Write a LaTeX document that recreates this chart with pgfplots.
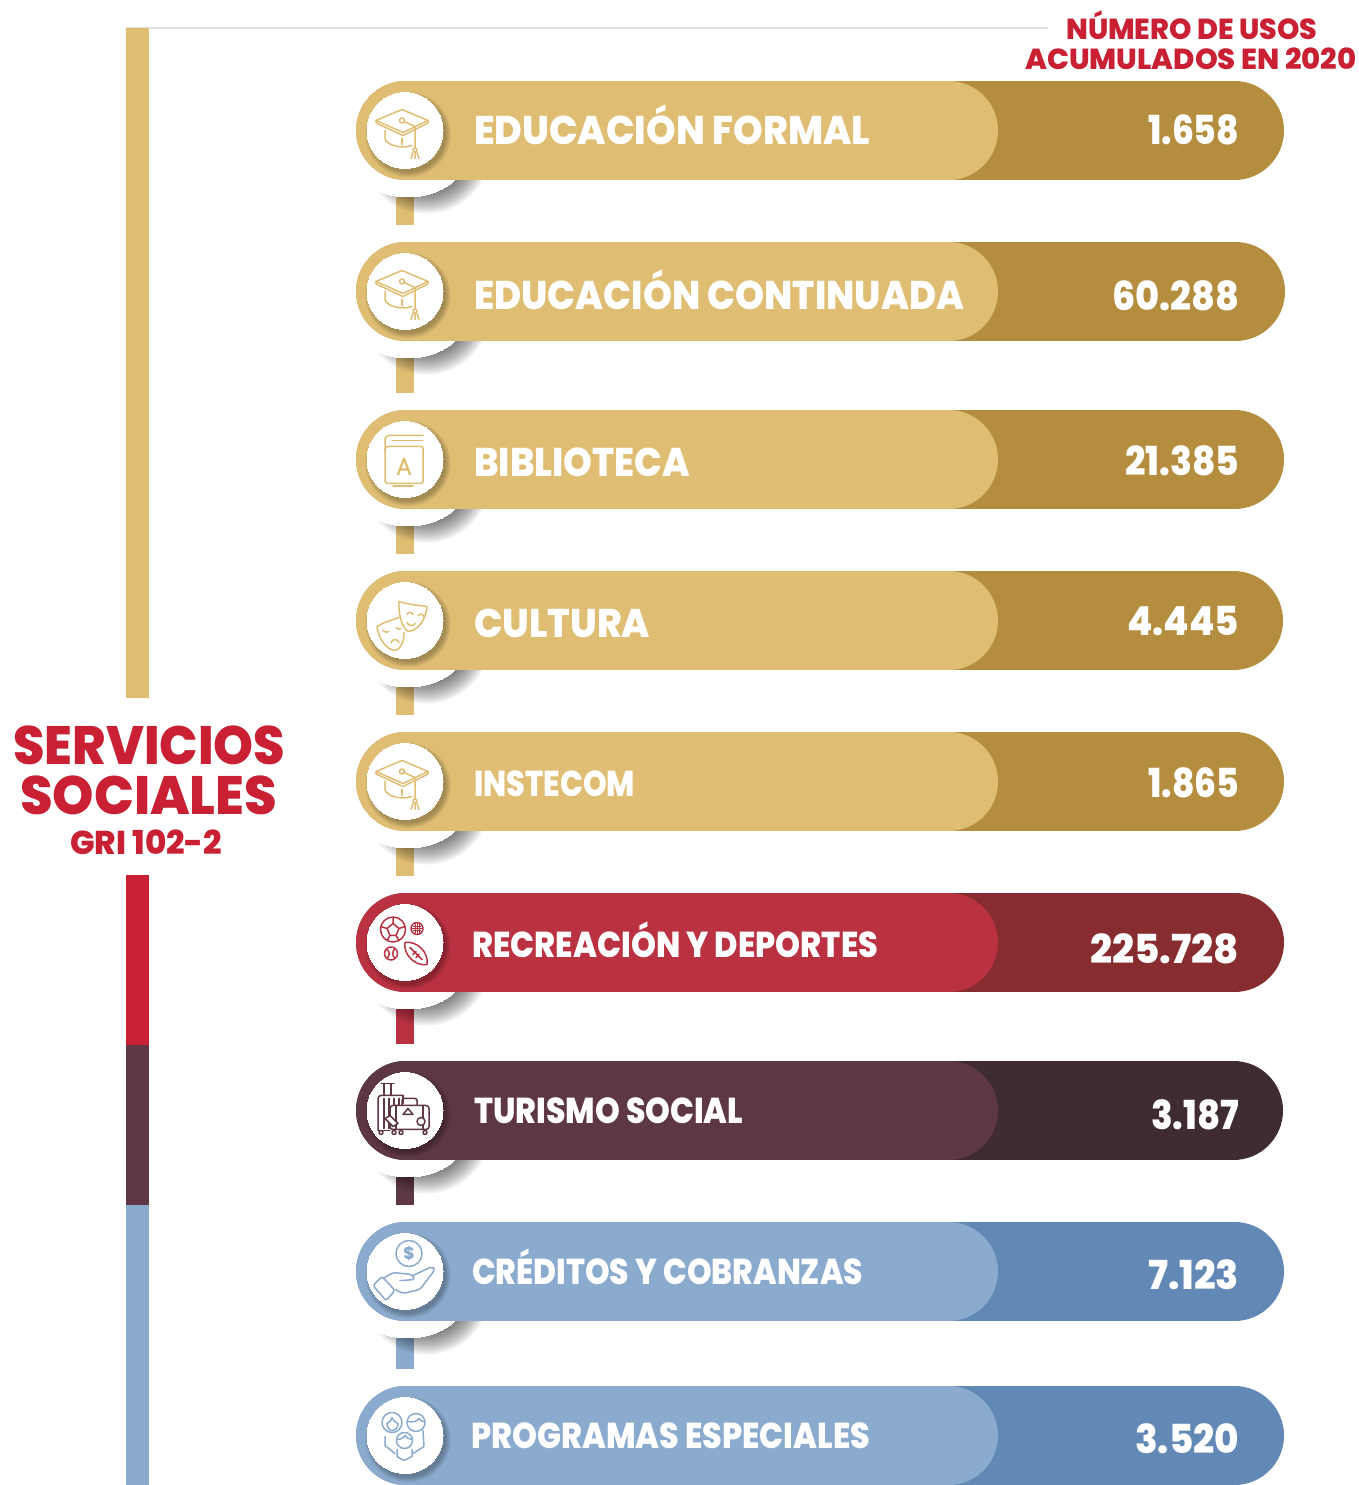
\documentclass[border=0pt]{standalone}
\usepackage{fontspec}
\usepackage{graphicx}
\usepackage{pgfplots}
\pgfplotsset{compat=1.18}
\setmainfont{Poppins}[BoldFont={Poppins ExtraBold}]

\definecolor{gold}{HTML}{DFBE73}
\definecolor{golddk}{HTML}{B48E3E}
\definecolor{redl}{HTML}{BA3242}
\definecolor{reddk}{HTML}{882D2F}
\definecolor{maroon}{HTML}{5E3744}
\definecolor{maroondk}{HTML}{3F2B32}
\definecolor{bluel}{HTML}{8AABCD}
\definecolor{bluedk}{HTML}{6288B5}
\definecolor{titlered}{HTML}{C92033}
\definecolor{colred}{HTML}{C92033}

% x, baseline y, width, font size, colour, text
\newcommand\txt[6]{\node[anchor=base west,inner sep=0pt,text=#5] at (axis cs:#1,#2)
  {\resizebox{#3pt}{\height}{\fontsize{#4}{#4}\selectfont\bfseries #6}};}

% centre y, bar end, light colour, dark colour, connector end
\newcommand\barrow[5]{%
  \ifnum#5>0
  \addplot[#3,line width=18pt,forget plot] coordinates {(405,#1) (405,#5)};
  \fi
  \pgfplotsinvokeforeach{40,42,...,64}{
    \addplot[only marks,mark=*,mark size=##1pt,mark options={draw opacity=0,line width=0pt,fill=black,fill opacity=.06},forget plot]
      coordinates {(426,#1+19)};
  }
  \addplot[only marks,mark=*,mark size=61pt,mark options={yscale=.77,draw=white,line width=0pt,fill=white},forget plot]
    coordinates {(408,#1+19.5)};
  \addplot[#4,line width=99pt,line cap=round,forget plot] coordinates {(405.5,#1) (#2,#1)};
  \addplot[#3,line width=99pt,line cap=round,forget plot] coordinates {(405.5,#1) (948.5,#1)};
  \pgfplotsinvokeforeach{38,39.5,41,42.5}{
    \addplot[only marks,mark=*,mark size=##1pt,mark options={draw opacity=0,line width=0pt,fill=black,fill opacity=.07},forget plot]
      coordinates {(408,#1+4)};
  }
  \addplot[only marks,mark=*,mark size=38pt,mark options={draw=white,line width=0pt,fill=white},forget plot]
    coordinates {(405,#1)};
}

% icons are drawn in pixels round the centre of the white circle
\newcommand\icon[3]{\begin{scope}[shift={(405pt,{(1485-#1)*1pt})},yscale=-1,x=1pt,y=1pt,
    draw=#2,line width=1.5pt,line cap=round,line join=round]#3\end{scope}}
\newcommand\capicon{%
  \draw (-29,-10)--(-3,-21)--(23,-10)--(-2,2)--cycle;
  \draw (-29,-10)--(-29,-7.5)--(-2,5)--(23,-7.5)--(23,-10);
  \draw (-3,-10) circle (2.5);
  \draw (-1,-9)--(10,-4)--(10,17);
  \draw (10,19.5) circle (2);
  \draw (8,22)--(6,28) (10,22)--(10,28) (12,22)--(14,28);
  \draw (-20,0)--(-20,8) .. controls (-19,14) and (-5,19) .. (7,15);
  \draw (-3,8)--(-3,14);
}

\begin{document}
\begin{tikzpicture}
\begin{axis}[
    scale only axis,
    width=1359pt,
    height=1485pt,
    xmin=0, xmax=1359,
    ymin=0, ymax=1485,
    y dir=reverse,
    hide axis,
    clip=false,
    clip marker paths=true
]
% side column and top rule
\addplot[black!12,line width=1.5pt,forget plot] coordinates {(126,28) (1048,28)};
\addplot[gold,line width=23pt,forget plot] coordinates {(137.5,28) (137.5,698)};
\addplot[colred,line width=23pt,forget plot] coordinates {(137.5,875) (137.5,1045)};
\addplot[maroon,line width=23pt,forget plot] coordinates {(137.5,1045) (137.5,1205)};
\addplot[bluel,line width=23pt,forget plot] coordinates {(137.5,1205) (137.5,1485)};

\barrow{130.5}{1234.5}{gold}{golddk}{225}
\barrow{291.5}{1235.5}{gold}{golddk}{393}
\barrow{459.5}{1234.5}{gold}{golddk}{554}
\barrow{620.5}{1233.5}{gold}{golddk}{715}
\barrow{781.5}{1234.5}{gold}{golddk}{876}
\barrow{942.5}{1234.5}{redl}{reddk}{1044}
\barrow{1110.5}{1233.5}{maroon}{maroondk}{1205}
\barrow{1271.5}{1234.5}{bluel}{bluedk}{1369}
\barrow{1435.5}{1234.5}{bluel}{bluedk}{0}

\txt{474}{145}{396}{40}{white}{EDUCACIÓN FORMAL}
\txt{474}{309}{490}{40}{white}{EDUCACIÓN CONTINUADA}
\txt{474}{476}{216}{40}{white}{BIBLIOTECA}
\txt{474}{637}{176}{40}{white}{CULTURA}
\txt{474}{796}{161}{36}{white}{INSTECOM}
\txt{472}{957}{406}{36}{white}{RECREACIÓN Y DEPORTES}
\txt{474}{1123}{269}{36}{white}{TURISMO SOCIAL}
\txt{472}{1284}{391}{36}{white}{CRÉDITOS Y COBRANZAS}
\txt{471}{1448}{399}{36}{white}{PROGRAMAS ESPECIALES}

\txt{1148}{145}{91}{40}{white}{1.658}
\txt{1112}{310}{127}{40}{white}{60.288}
\txt{1125}{475}{114}{40}{white}{21.385}
\txt{1127}{635}{112}{40}{white}{4.445}
\txt{1148}{797}{91}{40}{white}{1.865}
\txt{1090}{963}{149}{40}{white}{225.728}
\txt{1151}{1129}{88}{40}{white}{3.187}
\txt{1148}{1289}{91}{40}{white}{7.123}
\txt{1135}{1453}{104}{40}{white}{3.520}

\txt{1066}{40}{251}{29}{titlered}{NÚMERO DE USOS}
\txt{1025}{70}{331}{29}{titlered}{ACUMULADOS EN 2020}
\txt{13}{764}{272}{54}{titlered}{SERVICIOS}
\txt{20}{814}{257}{54}{titlered}{SOCIALES}
\txt{70}{854}{152}{33}{titlered}{GRI 102-2}
\end{axis}

\icon{130.5}{gold}{\capicon}
\icon{291.5}{gold}{\capicon}
\icon{781.5}{gold}{\capicon}
% book
\icon{459.5}{gold}{
  \draw[rounded corners=2pt] (18,-13)--(-15,-13) .. controls (-19,-13) and (-20,-10) .. (-20,-8)--(-20,20)
     .. controls (-20,23) and (-18,24) .. (-15,24)--(18,24)--cycle;
  \draw[rounded corners=4pt] (18,-24)--(-20,-24)--(-20,-8);
  \draw (-13,-19)--(18,-19);
  \draw (-12,26.5)--(8,26.5);
  \draw[line width=2.2pt] (-7,15)--(-1,-1)--(5,15) (-5,10)--(3,10);
}
% masks
\icon{620.5}{gold}{
  \draw (-6,-19) .. controls (4,-16) and (14,-15) .. (22,-14)
     .. controls (21,-2) and (14,10) .. (3,11) .. controls (-3,8) and (-7,-8) .. cycle;
  \draw (2,-6) .. controls (4,-9) and (6,-9) .. (8,-6);
  \draw (13,-5) .. controls (15,-7) and (17,-7) .. (19,-4);
  \draw (2,2) .. controls (4,6) and (8,6) .. (10,3);
  \draw (-6,-3) .. controls (-14,0) and (-22,2) .. (-28,6)
     .. controls (-27,16) and (-20,29) .. (-10,30) .. controls (-3,28) and (-1,20) .. (-1,12);
  \draw (-22,10) .. controls (-20,12) and (-18,12) .. (-16,11);
  \draw (-9,7) .. controls (-8,9) and (-6,9) .. (-4,8);
  \draw (-14,22) .. controls (-12,18) and (-8,18) .. (-6,22);
}
% balls
\icon{942.5}{redl}{
  \draw (-12,-13) circle (12.5);
  \draw (-12,-19)--(-6,-14)--(-9,-7)--(-15,-7)--(-18,-14)--cycle;
  \draw (-12,-19)--(-12,-25) (-6,-14)--(0,-16) (-9,-7)--(-6,-2) (-15,-7)--(-18,-2) (-18,-14)--(-24,-16);
  \draw (12,-14) circle (6);
  \draw[line width=.7pt] (8,-16)--(16,-16) (7,-14)--(17,-14) (8,-12)--(16,-12) (10,-19)--(10,-9) (12,-20)--(12,-8) (14,-19)--(14,-9);
  \draw (-14,11) circle (6.5);
  \draw (-18,7) .. controls (-15,9) and (-15,13) .. (-18,16) (-10,6) .. controls (-13,9) and (-13,13) .. (-10,16);
  \draw (0,0) .. controls (-2,12) and (10,24) .. (22,22) .. controls (24,10) and (12,-2) .. cycle;
  \draw (5,5)--(17,17) (8,12)--(11,9) (11,15)--(14,12);
}
% luggage
\icon{1110.5}{maroon}{
  \draw[rounded corners=3pt] (-27,20)--(-27,-15)--(-2,-15);
  \draw (-2,-15)--(-2,-7) (-27,20)--(-15,20);
  \draw (-21,-15)--(-21,-27) (-14,-15)--(-14,-27) (-24,-27)--(-11,-27);
  \draw (-21,-12)--(-21,18) (-16,-12)--(-16,18) (-11,-12)--(-11,-5) (-6,-12)--(-6,-5);
  \draw[rounded corners=3pt,fill=white] (-15,-5) rectangle (24,19);
  \draw[rounded corners=2pt] (-3,-5)--(-3,-12)--(12,-12)--(12,-5);
  \draw (-9,-5)--(-9,19) (18,-5)--(18,19);
  \draw (3,-2)--(8,4)--(-2,4)--cycle;
  \draw[fill=white] (16,11) circle (4);
  \draw[fill=white] (-20,8)--(-15,5)--(-7,13)--(-12,16)--cycle;
  \draw (-24,22) circle (2) (-11,22) circle (2) (-4,22) circle (2) (20,22) circle (2);
}
% hand and coin
\icon{1271.5}{bluel}{
  \draw (4,-18) circle (13);
  \node[text=bluel,inner sep=0pt,font=\bfseries\fontsize{17}{17}\selectfont] at (4,-18) {\$};
  \draw[rounded corners=2pt] (-32,14)--(-23,5)--(-10,19)--(-19,29)--cycle;
  \draw[rounded corners=3pt] (-22,7)--(-12,1)--(7,3)--(10,8)--(-3,9);
  \draw[rounded corners=3pt] (8,4)--(27,-5)--(30,-2)--(15,18)--(-2,22)--(-10,18);
  \draw (-5,9)--(-4,9);
}
% family
\icon{1435.5}{bluel}{
  \draw (-13,-13) circle (10);
  \draw (-18,-12) .. controls (-15,-13) and (-14,-15) .. (-13,-18) .. controls (-12,-15) and (-10,-13) .. (-7,-12);
  \draw (-18,-12) .. controls (-18,-7) and (-15,-5) .. (-13,-5) .. controls (-10,-5) and (-7,-7) .. (-7,-12);
  \draw (11,-13) circle (9);
  \draw (3,-14) .. controls (8,-13) and (12,-14) .. (14,-17) .. controls (15,-15) and (17,-14) .. (19,-14);
  \draw (-0.5,5) circle (8);
  \draw (-8,4) .. controls (-4,4) and (-1,2) .. (0,0) .. controls (1,2) and (4,4) .. (7,4);
  \draw (-20,1)--(-20,10)--(-10,18);
  \draw (18,-5)--(19,11)--(8,18);
  \draw (-8,14)--(-8,21)--(-1,25)--(7,21)--(7,14);
}
\pgfresetboundingbox
\useasboundingbox (0,0) rectangle (1359pt,1485pt);
\end{tikzpicture}
\end{document}
